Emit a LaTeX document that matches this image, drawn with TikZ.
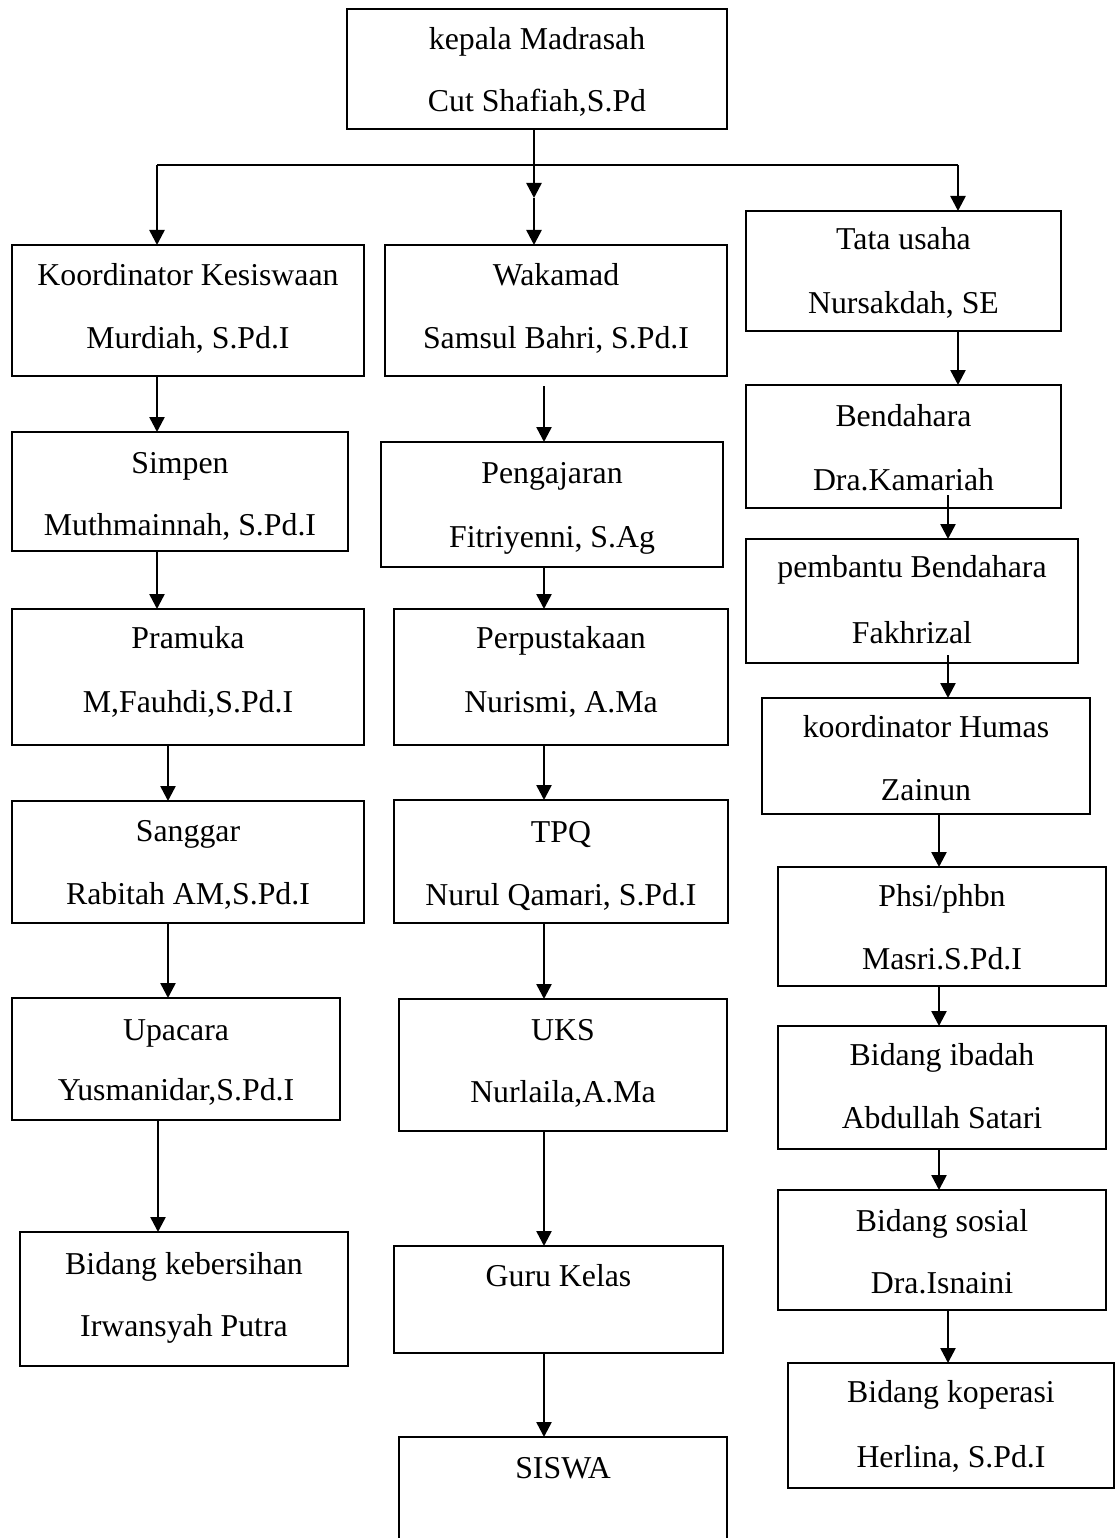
\documentclass[tikz,border=0pt]{standalone}
\usepackage{fontspec}
\setmainfont{Liberation Serif}
\usetikzlibrary{arrows.meta,calc}
\tikzset{
  obox/.style={draw=black, line width=2pt, inner sep=0pt, outer sep=0pt, rectangle},
  otext/.style={font=\fontsize{31.8}{38}\selectfont, inner sep=0pt, anchor=base},
  line/.style={draw=black, line width=2.5pt},
  conn/.style={line, -{Triangle[length=15pt,width=15pt]}}
}
% name x1 y1 x2 y2 base1 base2 text1 text2
\newcommand\orgbox[9]{%
  \node[obox, anchor=north west, minimum width={#4pt-#2pt}, minimum height={#5pt-#3pt}] (#1) at (#2,#3) {};
  \node[otext] (#1-a) at ({(#2+#4)/2},#6) {#8};
  \node[otext] (#1-b) at ({(#2+#4)/2},#7) {#9};
}
\newcommand\orgboxone[7]{%
  \node[obox, anchor=north west, minimum width={#4pt-#2pt}, minimum height={#5pt-#3pt}] (#1) at (#2,#3) {};
  \node[otext] (#1-a) at ({(#2+#4)/2},#6) {#7};
}
\begin{document}
\begin{tikzpicture}[x=1pt,y=-1pt]
\useasboundingbox[fill=white] (0,0) rectangle (1116,1538);

% top
\orgbox{kepala}{347}{9}{727}{129}{50}{112}{kepala Madrasah}{Cut Shafiah,S.Pd}

% left column
\orgbox{koord}{12}{245}{364}{376}{285}{348}{Koordinator Kesiswaan}{Murdiah, S.Pd.I}
\orgbox{simpen}{12}{432}{348}{551}{473}{535}{Simpen}{Muthmainnah, S.Pd.I}
\orgbox{pramuka}{12}{609}{364}{745}{648}{712}{Pramuka}{M,Fauhdi,S.Pd.I}
\orgbox{sanggar}{12}{801}{364}{923}{841}{904}{Sanggar}{Rabitah AM,S.Pd.I}
\orgbox{upacara}{12}{998}{340}{1120}{1040}{1100}{Upacara}{Yusmanidar,S.Pd.I}
\orgbox{bersih}{20}{1232}{348}{1366}{1274}{1336}{Bidang kebersihan}{Irwansyah Putra}

% middle column
\orgbox{wakamad}{385}{245}{727}{376}{285}{348}{Wakamad}{Samsul Bahri, S.Pd.I}
\orgbox{ajar}{381}{442}{723}{567}{483}{547}{Pengajaran}{Fitriyenni, S.Ag}
\orgbox{pustaka}{394}{609}{728}{745}{648}{712}{Perpustakaan}{Nurismi, A.Ma}
\orgbox{tpq}{394}{800}{728}{923}{842}{905}{TPQ}{Nurul Qamari, S.Pd.I}
\orgbox{uks}{399}{999}{727}{1131}{1040}{1102}{UKS}{Nurlaila,A.Ma}
\orgboxone{guru}{394}{1246}{723}{1353}{1286}{Guru Kelas}
\orgboxone{siswa}{399}{1437}{727}{1548}{1478}{SISWA}

% right column
\orgbox{tata}{746}{211}{1061}{331}{250}{313}{Tata usaha}{Nursakdah, SE}
\orgbox{bend}{746}{385}{1061}{508}{426}{490}{Bendahara}{Dra.Kamariah}
\orgbox{pemb}{746}{539}{1078}{663}{577}{643}{pembantu Bendahara}{Fakhrizal}
\orgbox{humas}{762}{698}{1090}{814}{737}{800}{koordinator Humas}{Zainun}
\orgbox{phsi}{778}{867}{1106}{986}{906}{969}{Phsi/phbn}{Masri.S.Pd.I}
\orgbox{ibadah}{778}{1026}{1106}{1149}{1065}{1128}{Bidang ibadah}{Abdullah Satari}
\orgbox{sosial}{778}{1190}{1106}{1310}{1231}{1293}{Bidang sosial}{Dra.Isnaini}
\orgbox{kop}{788}{1363}{1114}{1488}{1402}{1467}{Bidang koperasi}{Herlina, S.Pd.I}

% column x positions
\coordinate (hl) at (157,165);
\coordinate (hm) at (534,165);
\coordinate (hr) at (958,165);
\coordinate (hmid) at (534,198);
\coordinate (xL1) at (157,0);
\coordinate (xL2) at (168,0);
\coordinate (xL3) at (158,0);
\coordinate (xM) at (544,0);
\coordinate (xR1) at (958,0);
\coordinate (xR2) at (948,0);
\coordinate (xR3) at (939,0);

% top distribution
\draw[line] (kepala.south -| hm) -- (hm);
\draw[line] (hl) -- (hr);
\draw[conn] (hm) -- (hmid);
\draw[conn] (hmid) -- (wakamad.north -| hm);
\draw[conn] (hl) -- (koord.north -| hl);
\draw[conn] (hr) -- (tata.north -| hr);

% left chain
\draw[conn] (koord.south -| xL1) -- (simpen.north -| xL1);
\draw[conn] (simpen.south -| xL1) -- (pramuka.north -| xL1);
\draw[conn] (pramuka.south -| xL2) -- (sanggar.north -| xL2);
\draw[conn] (sanggar.south -| xL2) -- (upacara.north -| xL2);
\draw[conn] (upacara.south -| xL3) -- (bersih.north -| xL3);

% middle chain
\draw[conn] ($(wakamad.south -| xM)+(0,10)$) -- (ajar.north -| xM);
\draw[conn] (ajar.south -| xM) -- (pustaka.north -| xM);
\draw[conn] (pustaka.south -| xM) -- (tpq.north -| xM);
\draw[conn] (tpq.south -| xM) -- (uks.north -| xM);
\draw[conn] (uks.south -| xM) -- (guru.north -| xM);
\draw[conn] (guru.south -| xM) -- (siswa.north -| xM);

% right chain
\draw[conn] (tata.south -| xR1) -- (bend.north -| xR1);
\draw[conn] ($(bend.south -| xR2)+(0,-13)$) -- (pemb.north -| xR2);
\draw[conn] ($(pemb.south -| xR2)+(0,-8)$) -- (humas.north -| xR2);
\draw[conn] (humas.south -| xR3) -- (phsi.north -| xR3);
\draw[conn] (phsi.south -| xR3) -- (ibadah.north -| xR3);
\draw[conn] (ibadah.south -| xR3) -- (sosial.north -| xR3);
\draw[conn] (sosial.south -| xR2) -- (kop.north -| xR2);
\end{tikzpicture}
\end{document}
